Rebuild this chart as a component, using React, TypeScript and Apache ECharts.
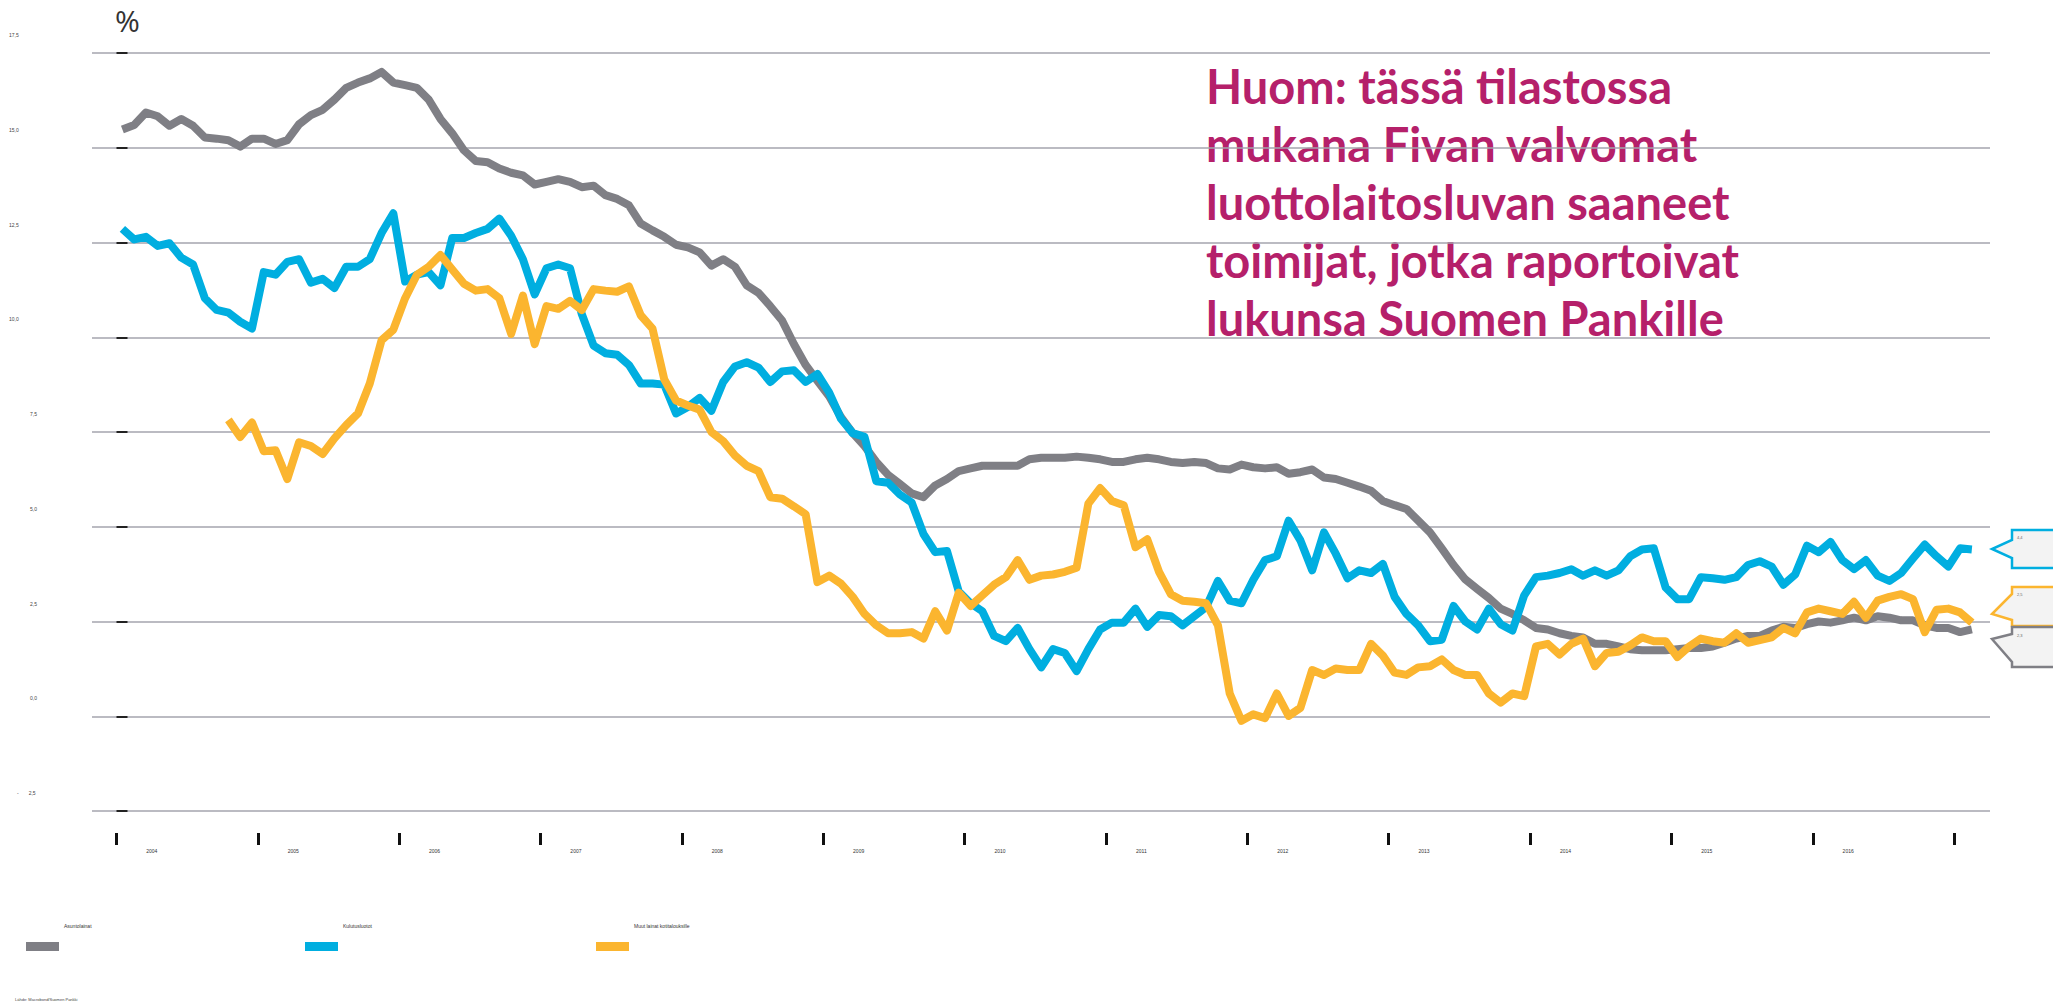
import React, { useEffect, useRef } from 'react';
import * as echarts from 'echarts';

// ---------------- DATA ----------------
const SERIES_NAMES = ['Asuntolainat', 'Kulutusluotot', 'Muut lainat kotitalouksille'];
const SERIES_COLORS = ['#7f7f85', '#00aee0', '#fbb52f'];

const YEAR_LABELS = ['2004', '2005', '2006', '2007', '2008', '2009', '2010', '2011', '2012', '2013', '2014', '2015', '2016'];
const YEAR_TICK_COUNT = 14; // 2004 ... 2017 year boundaries

const Y_TICK_VALUES = [-2.5, 0, 2.5, 5, 7.5, 10, 12.5, 15, 17.5];
const Y_TICK_LABELS = ['-2,5', '0,0', '2,5', '5,0', '7,5', '10,0', '12,5', '15,0', '17,5'];

// monthly values, Jan 2004 -> Feb 2017
const asuntolainat = [
  15.48, 15.6, 15.93, 15.83, 15.58, 15.76, 15.58, 15.27, 15.24, 15.2,
  15.03, 15.24, 15.24, 15.1, 15.2, 15.62, 15.86, 16.0, 16.27, 16.58,
  16.72, 16.83, 17.0, 16.72, 16.65, 16.58, 16.27, 15.76, 15.38, 14.93,
  14.65, 14.62, 14.45, 14.34, 14.27, 14.03, 14.1, 14.17, 14.1, 13.96,
  14.0, 13.75, 13.65, 13.48, 13.0, 12.82, 12.65, 12.44, 12.37, 12.24,
  11.89, 12.06, 11.86, 11.37, 11.17, 10.82, 10.44, 9.82, 9.27, 8.85,
  8.44, 7.89, 7.47, 7.13, 6.71, 6.37, 6.13, 5.88, 5.78, 6.09,
  6.26, 6.47, 6.54, 6.61, 6.61, 6.61, 6.61, 6.78, 6.82, 6.82,
  6.82, 6.85, 6.82, 6.78, 6.71, 6.71, 6.78, 6.82, 6.78, 6.71,
  6.68, 6.71, 6.68, 6.54, 6.51, 6.64, 6.57, 6.54, 6.57, 6.4,
  6.44, 6.51, 6.3, 6.26, 6.16, 6.06, 5.95, 5.68, 5.57, 5.47,
  5.16, 4.85, 4.43, 3.99, 3.61, 3.36, 3.12, 2.84, 2.7, 2.53,
  2.33, 2.29, 2.19, 2.12, 2.08, 1.91, 1.91, 1.84, 1.77, 1.74,
  1.74, 1.74, 1.77, 1.8, 1.8, 1.84, 1.94, 2.05, 2.12, 2.12,
  2.26, 2.36, 2.33, 2.43, 2.5, 2.47, 2.53, 2.6, 2.53, 2.64,
  2.6, 2.53, 2.53, 2.4, 2.33, 2.33, 2.22, 2.29,
];

const kulutusluotot = [
  12.86, 12.58, 12.65, 12.41, 12.48, 12.1, 11.92, 11.03, 10.72, 10.65,
  10.41, 10.23, 11.72, 11.65, 11.99, 12.06, 11.44, 11.54, 11.3, 11.86,
  11.86, 12.06, 12.75, 13.27, 11.47, 11.65, 11.72, 11.37, 12.62, 12.62,
  12.75, 12.86, 13.13, 12.68, 12.06, 11.13, 11.82, 11.92, 11.82, 10.61,
  9.78, 9.58, 9.54, 9.27, 8.78, 8.78, 8.75, 7.99, 8.16, 8.4,
  8.06, 8.82, 9.23, 9.34, 9.2, 8.82, 9.1, 9.13, 8.82, 9.03,
  8.54, 7.85, 7.47, 7.37, 6.2, 6.16, 5.85, 5.64, 4.81, 4.33,
  4.36, 3.29, 2.98, 2.77, 2.12, 1.98, 2.33, 1.77, 1.29, 1.77,
  1.67, 1.19, 1.77, 2.29, 2.47, 2.47, 2.84, 2.36, 2.67, 2.64,
  2.4, 2.64, 2.88, 3.57, 3.05, 2.98, 3.6, 4.12, 4.22, 5.16,
  4.64, 3.85, 4.85, 4.29, 3.64, 3.85, 3.78, 4.02, 3.15, 2.7,
  2.4, 1.98, 2.02, 2.91, 2.5, 2.29, 2.84, 2.43, 2.26, 3.19,
  3.67, 3.71, 3.78, 3.88, 3.71, 3.85, 3.71, 3.85, 4.22, 4.4,
  4.43, 3.4, 3.09, 3.09, 3.67, 3.64, 3.6, 3.67, 3.99, 4.09,
  3.95, 3.47, 3.74, 4.5, 4.33, 4.6, 4.12, 3.88, 4.12, 3.71,
  3.57, 3.78, 4.16, 4.53, 4.22, 3.95, 4.43, 4.4,
];

// starts Oct 2004 (month index 9)
const MUUT_START = 9;
const muutLainat = [
  7.82, 7.37, 7.75, 6.99, 7.02, 6.26, 7.23, 7.13, 6.92, 7.33,
  7.68, 7.99, 8.78, 9.92, 10.2, 11.03, 11.65, 11.86, 12.17, 11.79,
  11.41, 11.23, 11.27, 11.03, 10.09, 11.1, 9.82, 10.82, 10.75, 10.96,
  10.72, 11.27, 11.23, 11.2, 11.34, 10.58, 10.23, 8.89, 8.33, 8.2,
  8.09, 7.5, 7.26, 6.88, 6.61, 6.47, 5.78, 5.74, 5.54, 5.33,
  3.54, 3.71, 3.5, 3.15, 2.7, 2.4, 2.19, 2.19, 2.22, 2.05,
  2.77, 2.26, 3.26, 2.91, 3.19, 3.47, 3.67, 4.12, 3.6, 3.71,
  3.74, 3.81, 3.92, 5.61, 6.02, 5.68, 5.57, 4.46, 4.67, 3.81,
  3.22, 3.05, 3.02, 2.98, 2.4, 0.6, -0.12, 0.05, -0.05, 0.6,
  0.01, 0.22, 1.22, 1.09, 1.26, 1.22, 1.22, 1.91, 1.6, 1.15,
  1.09, 1.29, 1.32, 1.5, 1.22, 1.09, 1.09, 0.6, 0.36, 0.6,
  0.53, 1.84, 1.91, 1.63, 1.91, 2.05, 1.32, 1.67, 1.7, 1.87,
  2.08, 1.98, 1.98, 1.56, 1.84, 2.05, 1.98, 1.94, 2.19, 1.94,
  2.01, 2.08, 2.33, 2.19, 2.74, 2.84, 2.77, 2.7, 3.02, 2.6,
  3.05, 3.15, 3.22, 3.09, 2.22, 2.81, 2.84, 2.74, 2.47,
];

const NOTE_LINES = [
  'Huom: tässä tilastossa',
  'mukana Fivan valvomat',
  'luottolaitosluvan saaneet',
  'toimijat, jotka raportoivat',
  'lukunsa Suomen Pankille',
];
const SOURCE_TEXT = 'Lähde: Macrobond/Suomen Pankki';
const UNIT_TEXT = '%';

// ---------------- LAYOUT ----------------
const X_MIN = -2.08;
const X_MAX = 159.04;
const LEGEND_LEFTS = [26, 305, 596];

const toPoints = (vals: number[], start: number) => vals.map((v, i) => [start + i + 0.5, v]);
const fmt = (v: number) => v.toFixed(1).replace('.', ',');

const yLabelFormatter = (v: number) => {
  const idx = Y_TICK_VALUES.findIndex((t) => Math.abs(t - v) < 1e-6);
  const s = idx >= 0 ? Y_TICK_LABELS[idx] : '';
  if (v < 0) return `{m|-}{n|${s.replace('-', '')}}`;
  return v >= 10 ? `{a|${s}}` : `{b|${s}}`;
};

const callout = (pts: number[][], color: string, label: string, tx: number, ty: number) => [
  {
    type: 'polygon',
    shape: { points: pts },
    style: { fill: '#f3f3f3', stroke: color, lineWidth: 2.5 },
    z: 10,
  },
  {
    type: 'text',
    x: tx,
    y: ty,
    style: { text: label, fontSize: 4, fill: '#666', fontFamily: 'Liberation Sans' },
    z: 11,
  },
];

export default function App() {
  const ref = useRef<HTMLDivElement>(null);
  useEffect(() => {
    const chart = echarts.init(ref.current!, null, { renderer: 'svg' });
    const seriesData = [
      toPoints(asuntolainat, 0),
      toPoints(kulutusluotot, 0),
      toPoints(muutLainat, MUUT_START),
    ];
    const tickValues = Array.from({ length: YEAR_TICK_COUNT }, (_, k) => k * 12);
    const labelValues = YEAR_LABELS.map((_, k) => k * 12 + 3);

    const option: any = {
      animation: false,
      backgroundColor: '#ffffff',
      grid: { left: 92, right: 63, top: 53, bottom: 192, containLabel: false },
      xAxis: {
        type: 'value',
        min: X_MIN,
        max: X_MAX,
        offset: 22,
        axisLine: { show: false, onZero: false },
        splitLine: { show: false },
        axisTick: {
          show: true,
          length: 12,
          customValues: tickValues,
          lineStyle: { color: '#111', width: 3 },
        },
        axisLabel: {
          customValues: labelValues,
          formatter: (v: number) => YEAR_LABELS[Math.round((v - 3) / 12)] ?? '',
          fontSize: 5,
          color: '#333',
          margin: 15,
          fontFamily: 'Liberation Sans',
        },
      },
      yAxis: {
        type: 'value',
        min: -2.5,
        max: 17.5,
        interval: 2.5,
        axisLine: { show: false },
        axisTick: { show: true, inside: true, length: 11, lineStyle: { color: '#222', width: 2 } },
        splitLine: { show: true, lineStyle: { color: '#a4a4ae', width: 1.5 } },
        axisLabel: {
          align: 'left',
          margin: 83,
          fontSize: 5,
          color: '#444',
          fontFamily: 'Liberation Sans',
          formatter: yLabelFormatter,
          rich: {
            a: { fontSize: 5, color: '#444', padding: [0, 0, 36, 0] },
            b: { fontSize: 5, color: '#444', padding: [0, 0, 36, 21] },
            m: { fontSize: 5, color: '#444', padding: [0, 0, 36, 8] },
            n: { fontSize: 5, color: '#444', padding: [0, 0, 36, 10] },
          },
        },
      },
      legend: SERIES_NAMES.map((name, k) => ({
        data: [name],
        left: LEGEND_LEFTS[k],
        top: 923,
        padding: 0,
        icon: 'rect',
        itemWidth: 33,
        itemHeight: 9,
        selectedMode: false,
        formatter: (n: string) => `{t|${n}}`,
        textStyle: {
          fontSize: 5,
          color: '#333',
          fontFamily: 'Liberation Sans',
          rich: { t: { fontSize: 5, color: '#333', fontFamily: 'Liberation Sans', padding: [0, 0, 42, 0] } },
        },
      })),
      series: SERIES_NAMES.map((name, k) => ({
        name,
        type: 'line',
        data: seriesData[k],
        symbol: 'none',
        showSymbol: false,
        itemStyle: { color: SERIES_COLORS[k] },
        lineStyle: { color: SERIES_COLORS[k], width: 8, join: 'round', cap: 'butt' },
        z: 2 + k,
      })),
      graphic: [
        {
          type: 'text',
          x: 115,
          y: 5,
          style: { text: UNIT_TEXT, fontSize: 30, fill: '#333', fontFamily: 'Open Sans' },
        },
        {
          type: 'text',
          x: 1206,
          y: 57,
          style: {
            text: NOTE_LINES.join('\n'),
            fontSize: 47,
            fontWeight: 'bold',
            fontFamily: 'Lato',
            lineHeight: 58,
            fill: '#b5206a',
          },
        },
        {
          type: 'text',
          x: 15,
          y: 997,
          style: { text: SOURCE_TEXT, fontSize: 4, fill: '#444', fontFamily: 'Liberation Sans' },
        },
        ...callout(
          [[2012, 530], [2060, 530], [2060, 568], [2012, 568], [2012, 558], [1992, 549], [2012, 540]],
          SERIES_COLORS[1],
          fmt(kulutusluotot[kulutusluotot.length - 1]),
          2017,
          535
        ),
        ...callout(
          [[2012, 587], [2060, 587], [2060, 626], [2012, 626], [2012, 620], [1992, 614], [2012, 594]],
          SERIES_COLORS[2],
          fmt(muutLainat[muutLainat.length - 1]),
          2017,
          592
        ),
        ...callout(
          [[2012, 627], [2060, 627], [2060, 667], [2012, 667], [2012, 662], [1992, 639], [2012, 634]],
          SERIES_COLORS[0],
          fmt(asuntolainat[asuntolainat.length - 1]),
          2017,
          633
        ),
      ],
    };
    chart.setOption(option);
    return () => chart.dispose();
  }, []);
  return (
    <div
      ref={ref}
      style={{ position: 'fixed', left: 0, top: 0, width: 2053, height: 1003, background: '#fff' }}
    />
  );
}
